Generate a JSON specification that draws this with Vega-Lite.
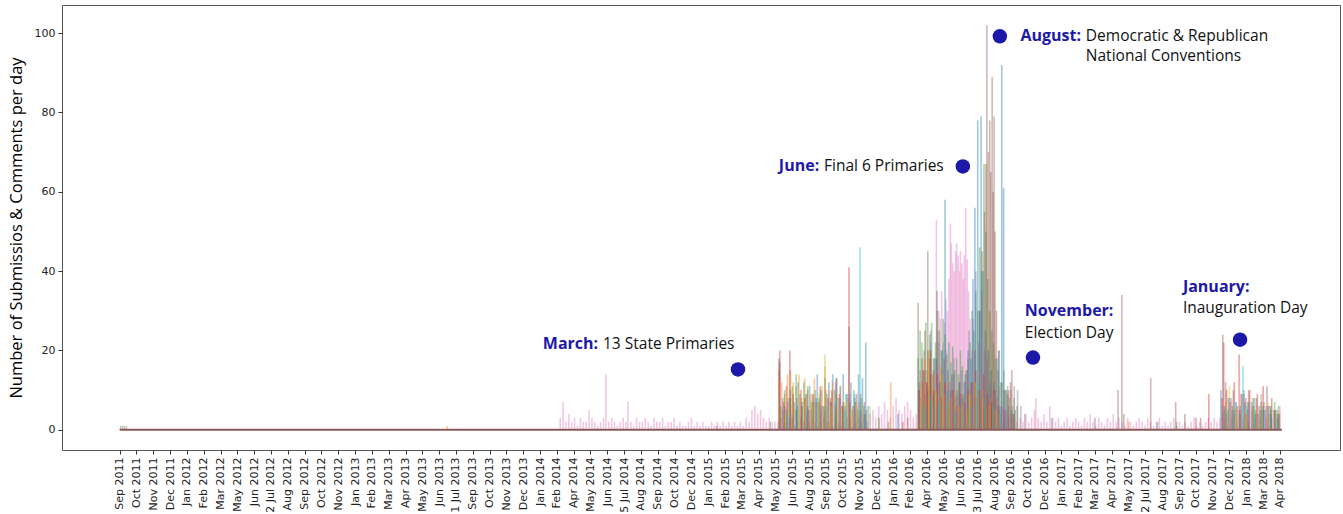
{
"$schema": "https://vega.github.io/schema/vega-lite/v6.json",
"width": 1278,
"height": 445,
"autosize": {"type": "none"},
"padding": {"left": 62, "top": 5, "right": 3, "bottom": 64},
"background": "white",
"config": {
  "view": {"stroke": "#555", "strokeWidth": 1},
  "axis": {"grid": false, "domain": false, "tickColor": "#333", "tickSize": 4, "labelFont": "DejaVu Sans", "labelFontSize": 11, "labelColor": "#222", "labelPadding": 3}
},
"datasets": {
  "counts": [
    {"day":2,"count":1,"series":"gray"},{"day":6,"count":1,"series":"gray"},{"day":10,"count":1,"series":"gray"},{"day":14,"count":1,"series":"gray"},
    {"day":682,"count":1,"series":"orange"},{"day":1243,"count":1,"series":"red"},{"day":1354,"count":2,"series":"green"},
    {"day":917,"count":3,"series":"pink"},{"day":923,"count":7,"series":"pink"},{"day":929,"count":2,"series":"pink"},{"day":935,"count":4,"series":"pink"},{"day":941,"count":2,"series":"pink"},{"day":947,"count":3,"series":"pink"},{"day":953,"count":1,"series":"pink"},{"day":959,"count":3,"series":"pink"},{"day":965,"count":2,"series":"pink"},{"day":971,"count":2,"series":"pink"},{"day":977,"count":5,"series":"pink"},{"day":983,"count":3,"series":"pink"},{"day":989,"count":2,"series":"pink"},{"day":995,"count":1,"series":"pink"},{"day":1001,"count":2,"series":"pink"},{"day":1007,"count":3,"series":"pink"},{"day":1012,"count":14,"series":"pink"},{"day":1018,"count":2,"series":"pink"},{"day":1024,"count":3,"series":"pink"},{"day":1030,"count":2,"series":"pink"},{"day":1036,"count":1,"series":"pink"},{"day":1042,"count":2,"series":"pink"},{"day":1048,"count":3,"series":"pink"},{"day":1054,"count":2,"series":"pink"},{"day":1058,"count":7,"series":"pink"},{"day":1064,"count":2,"series":"pink"},{"day":1070,"count":1,"series":"pink"},{"day":1076,"count":3,"series":"pink"},{"day":1082,"count":2,"series":"pink"},{"day":1088,"count":2,"series":"pink"},{"day":1094,"count":3,"series":"pink"},{"day":1100,"count":2,"series":"pink"},{"day":1106,"count":1,"series":"pink"},{"day":1112,"count":3,"series":"pink"},{"day":1118,"count":2,"series":"pink"},{"day":1124,"count":2,"series":"pink"},{"day":1130,"count":3,"series":"pink"},{"day":1136,"count":1,"series":"pink"},{"day":1142,"count":2,"series":"pink"},{"day":1148,"count":2,"series":"pink"},{"day":1154,"count":3,"series":"pink"},{"day":1160,"count":1,"series":"pink"},{"day":1166,"count":2,"series":"pink"},{"day":1172,"count":1,"series":"pink"},{"day":1178,"count":1,"series":"pink"},{"day":1184,"count":2,"series":"pink"},{"day":1190,"count":3,"series":"pink"},{"day":1196,"count":1,"series":"pink"},{"day":1202,"count":2,"series":"pink"},{"day":1208,"count":1,"series":"pink"},{"day":1214,"count":2,"series":"pink"},{"day":1220,"count":1,"series":"pink"},{"day":1226,"count":1,"series":"pink"},{"day":1232,"count":2,"series":"pink"},{"day":1238,"count":1,"series":"pink"},{"day":1244,"count":2,"series":"pink"},{"day":1250,"count":1,"series":"pink"},{"day":1256,"count":2,"series":"pink"},{"day":1262,"count":1,"series":"pink"},{"day":1268,"count":2,"series":"pink"},{"day":1274,"count":1,"series":"pink"},{"day":1280,"count":2,"series":"pink"},{"day":1286,"count":1,"series":"pink"},{"day":1292,"count":2,"series":"pink"},{"day":1298,"count":1,"series":"pink"},{"day":1304,"count":3,"series":"pink"},{"day":1310,"count":2,"series":"pink"},{"day":1316,"count":5,"series":"pink"},{"day":1322,"count":6,"series":"pink"},{"day":1328,"count":4,"series":"pink"},{"day":1334,"count":5,"series":"pink"},{"day":1340,"count":3,"series":"pink"},{"day":1346,"count":2,"series":"pink"},{"day":1352,"count":3,"series":"pink"},{"day":1358,"count":2,"series":"pink"},{"day":1364,"count":2,"series":"pink"},
    {"day":1370,"count":2,"series":"pink"},{"day":1376,"count":3,"series":"pink"},{"day":1382,"count":1,"series":"pink"},{"day":1388,"count":2,"series":"pink"},{"day":1394,"count":3,"series":"pink"},{"day":1400,"count":2,"series":"pink"},{"day":1406,"count":1,"series":"pink"},{"day":1412,"count":2,"series":"pink"},{"day":1418,"count":3,"series":"pink"},{"day":1424,"count":2,"series":"pink"},{"day":1430,"count":1,"series":"pink"},{"day":1436,"count":2,"series":"pink"},{"day":1442,"count":3,"series":"pink"},{"day":1448,"count":2,"series":"pink"},{"day":1454,"count":1,"series":"pink"},{"day":1460,"count":2,"series":"pink"},{"day":1466,"count":3,"series":"pink"},{"day":1472,"count":2,"series":"pink"},{"day":1478,"count":2,"series":"pink"},{"day":1484,"count":1,"series":"pink"},{"day":1490,"count":3,"series":"pink"},{"day":1496,"count":2,"series":"pink"},{"day":1502,"count":1,"series":"pink"},{"day":1508,"count":2,"series":"pink"},{"day":1514,"count":3,"series":"pink"},{"day":1520,"count":2,"series":"pink"},{"day":1526,"count":1,"series":"pink"},{"day":1532,"count":2,"series":"pink"},{"day":1538,"count":3,"series":"pink"},{"day":1544,"count":2,"series":"pink"},{"day":1550,"count":1,"series":"pink"},{"day":1556,"count":2,"series":"pink"},
    {"day":1562,"count":4,"series":"pink"},{"day":1568,"count":5,"series":"pink"},{"day":1574,"count":3,"series":"pink"},{"day":1580,"count":6,"series":"pink"},{"day":1586,"count":4,"series":"pink"},{"day":1592,"count":7,"series":"pink"},{"day":1598,"count":5,"series":"pink"},{"day":1604,"count":3,"series":"pink"},{"day":1610,"count":6,"series":"pink"},{"day":1616,"count":8,"series":"pink"},{"day":1622,"count":5,"series":"pink"},{"day":1628,"count":4,"series":"pink"},{"day":1634,"count":6,"series":"pink"},{"day":1640,"count":7,"series":"pink"},{"day":1646,"count":5,"series":"pink"},{"day":1652,"count":3,"series":"pink"},{"day":1658,"count":4,"series":"pink"},
    {"day":1664,"count":10,"series":"pink"},{"day":1668,"count":8,"series":"pink"},{"day":1672,"count":12,"series":"pink"},{"day":1676,"count":9,"series":"pink"},{"day":1680,"count":15,"series":"pink"},{"day":1684,"count":11,"series":"pink"},{"day":1688,"count":22,"series":"pink"},{"day":1692,"count":14,"series":"pink"},{"day":1696,"count":18,"series":"pink"},{"day":1700,"count":53,"series":"pink"},{"day":1702,"count":25,"series":"pink"},{"day":1705,"count":30,"series":"pink"},{"day":1708,"count":28,"series":"pink"},{"day":1711,"count":35,"series":"pink"},{"day":1714,"count":22,"series":"pink"},{"day":1717,"count":27,"series":"pink"},{"day":1720,"count":33,"series":"pink"},{"day":1723,"count":30,"series":"pink"},{"day":1726,"count":38,"series":"pink"},{"day":1729,"count":52,"series":"pink"},{"day":1731,"count":47,"series":"pink"},{"day":1734,"count":42,"series":"pink"},{"day":1737,"count":40,"series":"pink"},{"day":1740,"count":45,"series":"pink"},{"day":1742,"count":47,"series":"pink"},{"day":1745,"count":44,"series":"pink"},{"day":1748,"count":40,"series":"pink"},{"day":1750,"count":45,"series":"pink"},{"day":1753,"count":42,"series":"pink"},{"day":1756,"count":38,"series":"pink"},{"day":1758,"count":44,"series":"pink"},{"day":1761,"count":56,"series":"pink"},{"day":1764,"count":43,"series":"pink"},{"day":1767,"count":35,"series":"pink"},{"day":1770,"count":28,"series":"pink"},{"day":1774,"count":20,"series":"pink"},{"day":1778,"count":12,"series":"pink"},{"day":1782,"count":8,"series":"pink"},{"day":1786,"count":10,"series":"pink"},{"day":1790,"count":6,"series":"pink"},{"day":1794,"count":8,"series":"pink"},{"day":1798,"count":5,"series":"pink"},{"day":1802,"count":9,"series":"pink"},{"day":1806,"count":6,"series":"pink"},{"day":1810,"count":8,"series":"pink"},{"day":1814,"count":5,"series":"pink"},{"day":1818,"count":7,"series":"pink"},{"day":1822,"count":4,"series":"pink"},{"day":1826,"count":6,"series":"pink"},{"day":1830,"count":5,"series":"pink"},{"day":1834,"count":4,"series":"pink"},{"day":1838,"count":6,"series":"pink"},{"day":1842,"count":3,"series":"pink"},{"day":1846,"count":5,"series":"pink"},{"day":1850,"count":3,"series":"pink"},{"day":1856,"count":4,"series":"pink"},{"day":1862,"count":3,"series":"pink"},{"day":1868,"count":2,"series":"pink"},
    {"day":1874,"count":3,"series":"pink"},{"day":1880,"count":2,"series":"pink"},{"day":1886,"count":4,"series":"pink"},{"day":1892,"count":2,"series":"pink"},{"day":1898,"count":3,"series":"pink"},{"day":1904,"count":5,"series":"pink"},{"day":1907,"count":8,"series":"pink"},{"day":1912,"count":3,"series":"pink"},{"day":1918,"count":2,"series":"pink"},{"day":1924,"count":4,"series":"pink"},{"day":1930,"count":2,"series":"pink"},{"day":1936,"count":6,"series":"pink"},{"day":1942,"count":3,"series":"pink"},{"day":1948,"count":2,"series":"pink"},{"day":1954,"count":3,"series":"pink"},{"day":1960,"count":1,"series":"pink"},{"day":1966,"count":2,"series":"pink"},{"day":1972,"count":3,"series":"pink"},{"day":1978,"count":1,"series":"pink"},{"day":1984,"count":2,"series":"pink"},{"day":1990,"count":3,"series":"pink"},{"day":1996,"count":2,"series":"pink"},{"day":2002,"count":1,"series":"pink"},{"day":2008,"count":3,"series":"pink"},{"day":2014,"count":2,"series":"pink"},{"day":2020,"count":4,"series":"pink"},{"day":2026,"count":2,"series":"pink"},{"day":2032,"count":1,"series":"pink"},{"day":2038,"count":3,"series":"pink"},{"day":2044,"count":2,"series":"pink"},{"day":2050,"count":1,"series":"pink"},{"day":2056,"count":3,"series":"pink"},{"day":2062,"count":2,"series":"pink"},{"day":2068,"count":4,"series":"pink"},{"day":2074,"count":2,"series":"pink"},{"day":2080,"count":3,"series":"pink"},{"day":2086,"count":2,"series":"pink"},{"day":2092,"count":1,"series":"pink"},{"day":2098,"count":3,"series":"pink"},{"day":2104,"count":2,"series":"pink"},{"day":2110,"count":1,"series":"pink"},{"day":2116,"count":2,"series":"pink"},{"day":2122,"count":3,"series":"pink"},{"day":2128,"count":2,"series":"pink"},{"day":2134,"count":1,"series":"pink"},{"day":2140,"count":3,"series":"pink"},{"day":2146,"count":2,"series":"pink"},{"day":2152,"count":1,"series":"pink"},{"day":2158,"count":2,"series":"pink"},{"day":2164,"count":3,"series":"pink"},{"day":2170,"count":1,"series":"pink"},{"day":2176,"count":2,"series":"pink"},{"day":2182,"count":1,"series":"pink"},{"day":2188,"count":2,"series":"pink"},{"day":2194,"count":3,"series":"pink"},{"day":2200,"count":1,"series":"pink"},{"day":2206,"count":2,"series":"pink"},{"day":2212,"count":1,"series":"pink"},{"day":2218,"count":2,"series":"pink"},{"day":2224,"count":1,"series":"pink"},{"day":2230,"count":2,"series":"pink"},{"day":2236,"count":3,"series":"pink"},{"day":2242,"count":1,"series":"pink"},{"day":2248,"count":2,"series":"pink"},{"day":2254,"count":1,"series":"pink"},{"day":2260,"count":2,"series":"pink"},{"day":2266,"count":3,"series":"pink"},{"day":2272,"count":2,"series":"pink"},{"day":2278,"count":3,"series":"pink"},{"day":2284,"count":2,"series":"pink"},{"day":2290,"count":3,"series":"pink"},
    {"day":2296,"count":4,"series":"pink"},{"day":2302,"count":3,"series":"pink"},{"day":2308,"count":5,"series":"pink"},{"day":2314,"count":3,"series":"pink"},{"day":2320,"count":4,"series":"pink"},{"day":2326,"count":2,"series":"pink"},{"day":2332,"count":5,"series":"pink"},{"day":2338,"count":3,"series":"pink"},{"day":2344,"count":4,"series":"pink"},{"day":2350,"count":2,"series":"pink"},{"day":2356,"count":5,"series":"pink"},{"day":2362,"count":3,"series":"pink"},{"day":2368,"count":4,"series":"pink"},{"day":2374,"count":3,"series":"pink"},{"day":2380,"count":5,"series":"pink"},{"day":2386,"count":3,"series":"pink"},{"day":2392,"count":4,"series":"pink"},{"day":2398,"count":3,"series":"pink"},{"day":2404,"count":5,"series":"pink"},{"day":2410,"count":4,"series":"pink"},{"day":2415,"count":6,"series":"pink"},
    {"day":1374,"count":17,"series":"blue"},{"day":1380,"count":8,"series":"blue"},{"day":1388,"count":5,"series":"blue"},{"day":1396,"count":10,"series":"blue"},{"day":1404,"count":7,"series":"blue"},{"day":1412,"count":12,"series":"blue"},{"day":1420,"count":6,"series":"blue"},{"day":1428,"count":9,"series":"blue"},{"day":1436,"count":11,"series":"blue"},{"day":1444,"count":7,"series":"blue"},{"day":1452,"count":14,"series":"blue"},{"day":1460,"count":10,"series":"blue"},{"day":1468,"count":13,"series":"blue"},{"day":1476,"count":12,"series":"blue"},{"day":1484,"count":14,"series":"blue"},{"day":1492,"count":13,"series":"blue"},{"day":1500,"count":11,"series":"blue"},{"day":1506,"count":14,"series":"blue"},{"day":1514,"count":9,"series":"blue"},{"day":1522,"count":12,"series":"blue"},{"day":1530,"count":8,"series":"blue"},{"day":1538,"count":14,"series":"blue"},{"day":1546,"count":13,"series":"blue"},{"day":1553,"count":22,"series":"blue"},{"day":1558,"count":6,"series":"blue"},{"day":1580,"count":3,"series":"blue"},{"day":1620,"count":4,"series":"blue"},
    {"day":1372,"count":15,"series":"orange"},{"day":1378,"count":12,"series":"orange"},{"day":1384,"count":9,"series":"orange"},{"day":1390,"count":14,"series":"orange"},{"day":1396,"count":15,"series":"orange"},{"day":1402,"count":12,"series":"orange"},{"day":1408,"count":11,"series":"orange"},{"day":1414,"count":14,"series":"orange"},{"day":1420,"count":8,"series":"orange"},{"day":1426,"count":13,"series":"orange"},{"day":1432,"count":10,"series":"orange"},{"day":1438,"count":9,"series":"orange"},{"day":1446,"count":13,"series":"orange"},{"day":1454,"count":7,"series":"orange"},{"day":1462,"count":11,"series":"orange"},{"day":1468,"count":16,"series":"orange"},{"day":1476,"count":10,"series":"orange"},{"day":1484,"count":12,"series":"orange"},{"day":1492,"count":9,"series":"orange"},{"day":1500,"count":11,"series":"orange"},{"day":1508,"count":6,"series":"orange"},{"day":1516,"count":8,"series":"orange"},{"day":1524,"count":5,"series":"orange"},{"day":1532,"count":7,"series":"orange"},{"day":1540,"count":4,"series":"orange"},{"day":1548,"count":6,"series":"orange"},{"day":1605,"count":12,"series":"orange"},
    {"day":1376,"count":6,"series":"green"},{"day":1384,"count":10,"series":"green"},{"day":1392,"count":8,"series":"green"},{"day":1400,"count":11,"series":"green"},{"day":1408,"count":14,"series":"green"},{"day":1416,"count":9,"series":"green"},{"day":1424,"count":12,"series":"green"},{"day":1432,"count":11,"series":"green"},{"day":1440,"count":7,"series":"green"},{"day":1448,"count":10,"series":"green"},{"day":1456,"count":8,"series":"green"},{"day":1464,"count":6,"series":"green"},{"day":1472,"count":9,"series":"green"},{"day":1480,"count":7,"series":"green"},{"day":1488,"count":10,"series":"green"},{"day":1496,"count":8,"series":"green"},{"day":1504,"count":6,"series":"green"},{"day":1512,"count":9,"series":"green"},{"day":1520,"count":7,"series":"green"},{"day":1528,"count":10,"series":"green"},{"day":1536,"count":5,"series":"green"},{"day":1544,"count":8,"series":"green"},{"day":1552,"count":4,"series":"green"},{"day":1600,"count":2,"series":"green"},
    {"day":1374,"count":20,"series":"red"},{"day":1382,"count":7,"series":"red"},{"day":1388,"count":11,"series":"red"},{"day":1395,"count":20,"series":"red"},{"day":1402,"count":9,"series":"red"},{"day":1410,"count":6,"series":"red"},{"day":1418,"count":10,"series":"red"},{"day":1426,"count":8,"series":"red"},{"day":1434,"count":5,"series":"red"},{"day":1442,"count":9,"series":"red"},{"day":1450,"count":7,"series":"red"},{"day":1458,"count":11,"series":"red"},{"day":1466,"count":6,"series":"red"},{"day":1474,"count":8,"series":"red"},{"day":1482,"count":10,"series":"red"},{"day":1490,"count":6,"series":"red"},{"day":1498,"count":9,"series":"red"},{"day":1506,"count":7,"series":"red"},{"day":1518,"count":41,"series":"red"},{"day":1526,"count":6,"series":"red"},{"day":1534,"count":9,"series":"red"},{"day":1542,"count":5,"series":"red"},{"day":1550,"count":7,"series":"red"},{"day":1630,"count":2,"series":"red"},
    {"day":1380,"count":5,"series":"purple"},{"day":1390,"count":7,"series":"purple"},{"day":1400,"count":4,"series":"purple"},{"day":1410,"count":8,"series":"purple"},{"day":1420,"count":6,"series":"purple"},{"day":1430,"count":9,"series":"purple"},{"day":1440,"count":5,"series":"purple"},{"day":1450,"count":8,"series":"purple"},{"day":1460,"count":6,"series":"purple"},{"day":1470,"count":10,"series":"purple"},{"day":1480,"count":7,"series":"purple"},{"day":1490,"count":12,"series":"purple"},{"day":1500,"count":8,"series":"purple"},{"day":1510,"count":6,"series":"purple"},{"day":1520,"count":9,"series":"purple"},{"day":1530,"count":5,"series":"purple"},{"day":1540,"count":7,"series":"purple"},{"day":1550,"count":4,"series":"purple"},
    {"day":1372,"count":18,"series":"brown"},{"day":1384,"count":6,"series":"brown"},{"day":1396,"count":8,"series":"brown"},{"day":1408,"count":5,"series":"brown"},{"day":1420,"count":7,"series":"brown"},{"day":1432,"count":6,"series":"brown"},{"day":1444,"count":9,"series":"brown"},{"day":1456,"count":7,"series":"brown"},{"day":1468,"count":5,"series":"brown"},{"day":1480,"count":8,"series":"brown"},{"day":1492,"count":13,"series":"brown"},{"day":1504,"count":6,"series":"brown"},{"day":1518,"count":26,"series":"brown"},{"day":1530,"count":7,"series":"brown"},{"day":1542,"count":9,"series":"brown"},{"day":1554,"count":5,"series":"brown"},{"day":1640,"count":3,"series":"brown"},
    {"day":1386,"count":4,"series":"olive"},{"day":1400,"count":6,"series":"olive"},{"day":1414,"count":5,"series":"olive"},{"day":1428,"count":8,"series":"olive"},{"day":1442,"count":6,"series":"olive"},{"day":1456,"count":9,"series":"olive"},{"day":1468,"count":19,"series":"olive"},{"day":1480,"count":6,"series":"olive"},{"day":1494,"count":5,"series":"olive"},{"day":1508,"count":7,"series":"olive"},{"day":1522,"count":4,"series":"olive"},{"day":1536,"count":6,"series":"olive"},{"day":1562,"count":6,"series":"olive"},{"day":1580,"count":3,"series":"olive"},
    {"day":1390,"count":4,"series":"cyan"},{"day":1410,"count":6,"series":"cyan"},{"day":1430,"count":5,"series":"cyan"},{"day":1450,"count":8,"series":"cyan"},{"day":1470,"count":6,"series":"cyan"},{"day":1490,"count":7,"series":"cyan"},{"day":1510,"count":5,"series":"cyan"},{"day":1530,"count":9,"series":"cyan"},{"day":1541,"count":46,"series":"cyan"},{"day":1550,"count":6,"series":"cyan"},
    {"day":1400,"count":3,"series":"gray"},{"day":1430,"count":4,"series":"gray"},{"day":1460,"count":5,"series":"gray"},{"day":1490,"count":4,"series":"gray"},{"day":1520,"count":3,"series":"gray"},{"day":1550,"count":4,"series":"gray"},
    {"day":1662,"count":18,"series":"green"},{"day":1666,"count":25,"series":"green"},{"day":1670,"count":22,"series":"green"},{"day":1674,"count":15,"series":"green"},{"day":1678,"count":27,"series":"green"},{"day":1682,"count":20,"series":"green"},{"day":1686,"count":24,"series":"green"},{"day":1690,"count":27,"series":"green"},{"day":1694,"count":18,"series":"green"},{"day":1698,"count":22,"series":"green"},{"day":1702,"count":30,"series":"green"},{"day":1706,"count":25,"series":"green"},{"day":1710,"count":20,"series":"green"},{"day":1714,"count":28,"series":"green"},{"day":1718,"count":24,"series":"green"},{"day":1722,"count":19,"series":"green"},{"day":1726,"count":22,"series":"green"},{"day":1730,"count":17,"series":"green"},{"day":1734,"count":21,"series":"green"},{"day":1738,"count":15,"series":"green"},{"day":1742,"count":18,"series":"green"},{"day":1746,"count":14,"series":"green"},{"day":1750,"count":20,"series":"green"},{"day":1754,"count":16,"series":"green"},{"day":1758,"count":12,"series":"green"},{"day":1762,"count":15,"series":"green"},{"day":1766,"count":18,"series":"green"},{"day":1770,"count":22,"series":"green"},{"day":1774,"count":30,"series":"green"},{"day":1778,"count":25,"series":"green"},{"day":1782,"count":35,"series":"green"},{"day":1786,"count":30,"series":"green"},{"day":1790,"count":46,"series":"green"},{"day":1794,"count":40,"series":"green"},{"day":1799,"count":67,"series":"green"},{"day":1803,"count":50,"series":"green"},{"day":1807,"count":38,"series":"green"},{"day":1811,"count":30,"series":"green"},{"day":1815,"count":25,"series":"green"},{"day":1819,"count":22,"series":"green"},{"day":1823,"count":18,"series":"green"},{"day":1828,"count":15,"series":"green"},{"day":1834,"count":12,"series":"green"},{"day":1840,"count":15,"series":"green"},{"day":1846,"count":10,"series":"green"},{"day":1852,"count":8,"series":"green"},{"day":1858,"count":6,"series":"green"},{"day":1864,"count":5,"series":"green"},
    {"day":1664,"count":12,"series":"blue"},{"day":1670,"count":8,"series":"blue"},{"day":1676,"count":15,"series":"blue"},{"day":1682,"count":10,"series":"blue"},{"day":1688,"count":14,"series":"blue"},{"day":1694,"count":9,"series":"blue"},{"day":1700,"count":18,"series":"blue"},{"day":1706,"count":12,"series":"blue"},{"day":1712,"count":20,"series":"blue"},{"day":1718,"count":58,"series":"blue"},{"day":1724,"count":15,"series":"blue"},{"day":1730,"count":10,"series":"blue"},{"day":1736,"count":14,"series":"blue"},{"day":1742,"count":9,"series":"blue"},{"day":1748,"count":12,"series":"blue"},{"day":1754,"count":8,"series":"blue"},{"day":1760,"count":14,"series":"blue"},{"day":1766,"count":20,"series":"blue"},{"day":1772,"count":18,"series":"blue"},{"day":1776,"count":38,"series":"blue"},{"day":1780,"count":56,"series":"blue"},{"day":1786,"count":78,"series":"blue"},{"day":1790,"count":30,"series":"blue"},{"day":1793,"count":79,"series":"blue"},{"day":1797,"count":40,"series":"blue"},{"day":1802,"count":25,"series":"blue"},{"day":1808,"count":20,"series":"blue"},{"day":1814,"count":15,"series":"blue"},{"day":1820,"count":12,"series":"blue"},{"day":1826,"count":18,"series":"blue"},{"day":1830,"count":20,"series":"blue"},{"day":1836,"count":92,"series":"blue"},{"day":1840,"count":61,"series":"blue"},{"day":1844,"count":10,"series":"blue"},{"day":1850,"count":6,"series":"blue"},{"day":1856,"count":5,"series":"blue"},{"day":1862,"count":4,"series":"blue"},
    {"day":1666,"count":15,"series":"purple"},{"day":1674,"count":20,"series":"purple"},{"day":1680,"count":12,"series":"purple"},{"day":1688,"count":25,"series":"purple"},{"day":1696,"count":18,"series":"purple"},{"day":1704,"count":22,"series":"purple"},{"day":1712,"count":15,"series":"purple"},{"day":1720,"count":20,"series":"purple"},{"day":1728,"count":12,"series":"purple"},{"day":1736,"count":18,"series":"purple"},{"day":1744,"count":10,"series":"purple"},{"day":1752,"count":15,"series":"purple"},{"day":1760,"count":12,"series":"purple"},{"day":1768,"count":25,"series":"purple"},{"day":1776,"count":28,"series":"purple"},{"day":1782,"count":40,"series":"purple"},{"day":1788,"count":22,"series":"purple"},{"day":1794,"count":35,"series":"purple"},{"day":1800,"count":20,"series":"purple"},{"day":1806,"count":18,"series":"purple"},{"day":1812,"count":12,"series":"purple"},{"day":1818,"count":10,"series":"purple"},{"day":1826,"count":8,"series":"purple"},{"day":1834,"count":6,"series":"purple"},{"day":1844,"count":5,"series":"purple"},{"day":1856,"count":4,"series":"purple"},
    {"day":1662,"count":32,"series":"brown"},{"day":1670,"count":18,"series":"brown"},{"day":1676,"count":25,"series":"brown"},{"day":1682,"count":45,"series":"brown"},{"day":1688,"count":20,"series":"brown"},{"day":1694,"count":15,"series":"brown"},{"day":1701,"count":35,"series":"brown"},{"day":1708,"count":12,"series":"brown"},{"day":1716,"count":18,"series":"brown"},{"day":1724,"count":10,"series":"brown"},{"day":1732,"count":14,"series":"brown"},{"day":1740,"count":8,"series":"brown"},{"day":1748,"count":12,"series":"brown"},{"day":1756,"count":9,"series":"brown"},{"day":1764,"count":15,"series":"brown"},{"day":1772,"count":12,"series":"brown"},{"day":1780,"count":20,"series":"brown"},{"day":1790,"count":30,"series":"brown"},{"day":1795,"count":45,"series":"brown"},{"day":1800,"count":55,"series":"brown"},{"day":1803,"count":67,"series":"brown"},{"day":1805,"count":102,"series":"brown"},{"day":1808,"count":70,"series":"brown"},{"day":1811,"count":78,"series":"brown"},{"day":1813,"count":65,"series":"brown"},{"day":1816,"count":89,"series":"brown"},{"day":1818,"count":60,"series":"brown"},{"day":1820,"count":79,"series":"brown"},{"day":1822,"count":50,"series":"brown"},{"day":1825,"count":30,"series":"brown"},{"day":1830,"count":20,"series":"brown"},{"day":1836,"count":12,"series":"brown"},{"day":1842,"count":10,"series":"brown"},{"day":1848,"count":9,"series":"brown"},{"day":1854,"count":12,"series":"brown"},{"day":1857,"count":15,"series":"brown"},{"day":1862,"count":8,"series":"brown"},{"day":1868,"count":6,"series":"brown"},
    {"day":1664,"count":10,"series":"red"},{"day":1672,"count":15,"series":"red"},{"day":1680,"count":12,"series":"red"},{"day":1686,"count":18,"series":"red"},{"day":1694,"count":10,"series":"red"},{"day":1702,"count":14,"series":"red"},{"day":1710,"count":8,"series":"red"},{"day":1718,"count":12,"series":"red"},{"day":1726,"count":7,"series":"red"},{"day":1734,"count":10,"series":"red"},{"day":1742,"count":6,"series":"red"},{"day":1750,"count":9,"series":"red"},{"day":1758,"count":7,"series":"red"},{"day":1766,"count":10,"series":"red"},{"day":1774,"count":12,"series":"red"},{"day":1782,"count":15,"series":"red"},{"day":1790,"count":10,"series":"red"},{"day":1798,"count":14,"series":"red"},{"day":1806,"count":9,"series":"red"},{"day":1814,"count":7,"series":"red"},{"day":1822,"count":10,"series":"red"},{"day":1830,"count":6,"series":"red"},{"day":1840,"count":5,"series":"red"},{"day":1850,"count":10,"series":"red"},{"day":1860,"count":4,"series":"red"},
    {"day":1668,"count":12,"series":"orange"},{"day":1676,"count":18,"series":"orange"},{"day":1684,"count":20,"series":"orange"},{"day":1692,"count":14,"series":"orange"},{"day":1700,"count":10,"series":"orange"},{"day":1708,"count":16,"series":"orange"},{"day":1716,"count":9,"series":"orange"},{"day":1724,"count":12,"series":"orange"},{"day":1732,"count":8,"series":"orange"},{"day":1740,"count":10,"series":"orange"},{"day":1748,"count":6,"series":"orange"},{"day":1756,"count":8,"series":"orange"},{"day":1764,"count":5,"series":"orange"},{"day":1772,"count":9,"series":"orange"},{"day":1780,"count":12,"series":"orange"},{"day":1788,"count":8,"series":"orange"},{"day":1796,"count":10,"series":"orange"},{"day":1804,"count":6,"series":"orange"},{"day":1812,"count":8,"series":"orange"},{"day":1820,"count":5,"series":"orange"},{"day":1830,"count":4,"series":"orange"},
    {"day":1670,"count":8,"series":"olive"},{"day":1684,"count":12,"series":"olive"},{"day":1698,"count":9,"series":"olive"},{"day":1712,"count":14,"series":"olive"},{"day":1726,"count":7,"series":"olive"},{"day":1740,"count":10,"series":"olive"},{"day":1754,"count":6,"series":"olive"},{"day":1768,"count":9,"series":"olive"},{"day":1782,"count":12,"series":"olive"},{"day":1796,"count":8,"series":"olive"},{"day":1810,"count":6,"series":"olive"},{"day":1824,"count":5,"series":"olive"},
    {"day":1674,"count":6,"series":"cyan"},{"day":1690,"count":9,"series":"cyan"},{"day":1706,"count":7,"series":"cyan"},{"day":1722,"count":10,"series":"cyan"},{"day":1738,"count":5,"series":"cyan"},{"day":1754,"count":8,"series":"cyan"},{"day":1770,"count":6,"series":"cyan"},{"day":1786,"count":12,"series":"cyan"},{"day":1802,"count":9,"series":"cyan"},{"day":1818,"count":6,"series":"cyan"},{"day":1834,"count":5,"series":"cyan"},
    {"day":1680,"count":5,"series":"gray"},{"day":1700,"count":6,"series":"gray"},{"day":1720,"count":4,"series":"gray"},{"day":1740,"count":5,"series":"gray"},{"day":1760,"count":6,"series":"gray"},{"day":1780,"count":8,"series":"gray"},{"day":1800,"count":10,"series":"gray"},{"day":1810,"count":11,"series":"gray"},{"day":1820,"count":10,"series":"gray"},{"day":1830,"count":11,"series":"gray"},{"day":1840,"count":10,"series":"gray"},{"day":1848,"count":11,"series":"gray"},{"day":1855,"count":10,"series":"gray"},{"day":1862,"count":11,"series":"gray"},{"day":1869,"count":10,"series":"gray"},{"day":1876,"count":6,"series":"gray"},{"day":1884,"count":4,"series":"gray"},
    {"day":2030,"count":3,"series":"brown"},{"day":2078,"count":10,"series":"brown"},{"day":2086,"count":34,"series":"brown"},{"day":2090,"count":4,"series":"brown"},{"day":2146,"count":13,"series":"brown"},{"day":2198,"count":7,"series":"brown"},{"day":2217,"count":4,"series":"brown"},{"day":2250,"count":3,"series":"brown"},{"day":2100,"count":2,"series":"orange"},{"day":2160,"count":2,"series":"blue"},{"day":2240,"count":3,"series":"red"},{"day":2200,"count":2,"series":"green"},{"day":1940,"count":3,"series":"gray"},
    {"day":2296,"count":24,"series":"brown"},{"day":2302,"count":12,"series":"brown"},{"day":2310,"count":8,"series":"brown"},{"day":2318,"count":10,"series":"brown"},{"day":2326,"count":6,"series":"brown"},{"day":2334,"count":9,"series":"brown"},{"day":2342,"count":7,"series":"brown"},{"day":2350,"count":10,"series":"brown"},{"day":2358,"count":6,"series":"brown"},{"day":2366,"count":8,"series":"brown"},{"day":2374,"count":5,"series":"brown"},{"day":2382,"count":7,"series":"brown"},{"day":2388,"count":11,"series":"brown"},{"day":2396,"count":6,"series":"brown"},{"day":2404,"count":5,"series":"brown"},{"day":2412,"count":4,"series":"brown"},
    {"day":2267,"count":9,"series":"red"},{"day":2294,"count":8,"series":"red"},{"day":2298,"count":22,"series":"red"},{"day":2304,"count":10,"series":"red"},{"day":2312,"count":7,"series":"red"},{"day":2320,"count":12,"series":"red"},{"day":2330,"count":19,"series":"red"},{"day":2336,"count":9,"series":"red"},{"day":2344,"count":8,"series":"red"},{"day":2352,"count":10,"series":"red"},{"day":2360,"count":6,"series":"red"},{"day":2368,"count":9,"series":"red"},{"day":2376,"count":7,"series":"red"},{"day":2380,"count":11,"series":"red"},{"day":2390,"count":6,"series":"red"},{"day":2398,"count":8,"series":"red"},{"day":2406,"count":5,"series":"red"},{"day":2414,"count":4,"series":"red"},
    {"day":2292,"count":10,"series":"blue"},{"day":2300,"count":6,"series":"blue"},{"day":2308,"count":8,"series":"blue"},{"day":2316,"count":5,"series":"blue"},{"day":2324,"count":7,"series":"blue"},{"day":2332,"count":6,"series":"blue"},{"day":2340,"count":9,"series":"blue"},{"day":2348,"count":5,"series":"blue"},{"day":2356,"count":7,"series":"blue"},{"day":2364,"count":4,"series":"blue"},{"day":2372,"count":6,"series":"blue"},{"day":2384,"count":5,"series":"blue"},{"day":2396,"count":4,"series":"blue"},{"day":2410,"count":3,"series":"blue"},
    {"day":2306,"count":5,"series":"cyan"},{"day":2322,"count":7,"series":"cyan"},{"day":2338,"count":16,"series":"cyan"},{"day":2346,"count":6,"series":"cyan"},{"day":2362,"count":8,"series":"cyan"},{"day":2378,"count":5,"series":"cyan"},{"day":2394,"count":6,"series":"cyan"},{"day":2408,"count":4,"series":"cyan"},
    {"day":2310,"count":11,"series":"olive"},{"day":2326,"count":6,"series":"olive"},{"day":2342,"count":5,"series":"olive"},{"day":2358,"count":8,"series":"olive"},{"day":2374,"count":4,"series":"olive"},{"day":2390,"count":7,"series":"olive"},{"day":2406,"count":5,"series":"olive"},
    {"day":2300,"count":5,"series":"green"},{"day":2316,"count":6,"series":"green"},{"day":2332,"count":4,"series":"green"},{"day":2348,"count":7,"series":"green"},{"day":2364,"count":5,"series":"green"},{"day":2380,"count":6,"series":"green"},{"day":2396,"count":5,"series":"green"},{"day":2404,"count":7,"series":"green"},{"day":2412,"count":6,"series":"green"},
    {"day":2296,"count":6,"series":"purple"},{"day":2314,"count":8,"series":"purple"},{"day":2330,"count":5,"series":"purple"},{"day":2350,"count":7,"series":"purple"},{"day":2370,"count":4,"series":"purple"},{"day":2386,"count":6,"series":"purple"},{"day":2402,"count":5,"series":"purple"},
    {"day":2304,"count":4,"series":"gray"},{"day":2320,"count":5,"series":"gray"},{"day":2340,"count":10,"series":"gray"},{"day":2360,"count":8,"series":"gray"},{"day":2376,"count":9,"series":"gray"},{"day":2392,"count":6,"series":"gray"},{"day":2410,"count":5,"series":"gray"},
    {"day":2302,"count":7,"series":"orange"},{"day":2324,"count":5,"series":"orange"},{"day":2346,"count":4,"series":"orange"},{"day":2368,"count":6,"series":"orange"},{"day":2390,"count":3,"series":"orange"}
  ],
  "baseline": [{"day": 0, "end": 2419, "count": 0}],
  "events": [
    {"day": 1287, "count": 15.2, "event": "March"},
    {"day": 1755, "count": 66.4, "event": "June"},
    {"day": 1832, "count": 99.2, "event": "August"},
    {"day": 1901, "count": 18.2, "event": "November"},
    {"day": 2332, "count": 22.7, "event": "January"}
  ],
  "notes": [
    {"day": 996, "count": 21.7, "text": "March:", "role": "headR"},
    {"day": 1006, "count": 21.7, "text": "13 State Primaries", "role": "body"},
    {"day": 1456, "count": 66.4, "text": "June:", "role": "headR"},
    {"day": 1466, "count": 66.4, "text": "Final 6 Primaries", "role": "body"},
    {"day": 2001, "count": 99.2, "text": "August:", "role": "headR"},
    {"day": 2011, "count": 99.2, "text": "Democratic & Republican", "role": "body"},
    {"day": 2011, "count": 94.2, "text": "National Conventions", "role": "body"},
    {"day": 1884, "count": 30.0, "text": "November:", "role": "headL"},
    {"day": 1884, "count": 24.5, "text": "Election Day", "role": "body"},
    {"day": 2213, "count": 36.1, "text": "January:", "role": "headL"},
    {"day": 2213, "count": 30.8, "text": "Inauguration Day", "role": "body"}
  ]
},
"layer": [
  {
    "data": {"name": "counts"},
    "mark": {"type": "bar", "size": 1.6, "opacity": 0.42},
    "encoding": {
      "x": {"field": "day", "type": "quantitative",
        "scale": {"domain": [-120, 2540], "nice": false, "zero": false, "padding": 0},
        "axis": {"title": null, "labelAngle": -90, "tickCount": 200,
          "values": [0,35,70,105,140,175,210,245,280,315,350,385,420,455,490,525,560,595,630,665,700,735,770,805,840,875,910,945,980,1015,1050,1085,1120,1155,1190,1225,1260,1295,1330,1365,1400,1435,1470,1505,1540,1575,1610,1645,1680,1715,1750,1785,1820,1855,1890,1925,1960,1995,2030,2065,2100,2135,2170,2205,2240,2275,2310,2345,2380,2415],
          "labelExpr": "['Sep 2011','Oct 2011','Nov 2011','Dec 2011','Jan 2012','Feb 2012','Mar 2012','May 2012','Jun 2012','2 Jul 2012','Aug 2012','Sep 2012','Oct 2012','Nov 2012','Jan 2013','Feb 2013','Mar 2013','Apr 2013','May 2013','Jun 2013','1 Jul 2013','Sep 2013','Oct 2013','Nov 2013','Dec 2013','Jan 2014','Feb 2014','Apr 2014','May 2014','Jun 2014','5 Jul 2014','Aug 2014','Sep 2014','Oct 2014','Dec 2014','Jan 2015','Feb 2015','Mar 2015','Apr 2015','May 2015','Jun 2015','Aug 2015','Sep 2015','Oct 2015','Nov 2015','Dec 2015','Jan 2016','Feb 2016','Apr 2016','May 2016','Jun 2016','3 Jul 2016','Aug 2016','Sep 2016','Oct 2016','Dec 2016','Jan 2017','Feb 2017','Mar 2017','Apr 2017','May 2017','2 Jul 2017','Aug 2017','Sep 2017','Oct 2017','Nov 2017','Dec 2017','Jan 2018','Mar 2018','Apr 2018'][round(datum.value/35)]",
          "labelOverlap": false, "labelBound": false, "labelFlush": false}},
      "y": {"field": "count", "type": "quantitative", "stack": null,
        "scale": {"domain": [-5.1, 107.1], "nice": false, "zero": false},
        "axis": {"title": "Number of Submissios & Comments per day", "values": [0,20,40,60,80,100],
          "titleFont": "Open Sans", "titleFontSize": 16.5, "titleFontWeight": "normal", "titleColor": "#000", "titlePadding": 10, "labelPadding": 3}},
      "color": {"field": "series", "type": "nominal", "legend": null,
        "scale": {"domain": ["blue","orange","green","red","purple","brown","pink","gray","olive","cyan"],
                  "range": ["#1f77b4","#ff7f0e","#2ca02c","#d62728","#9467bd","#8c564b","#e377c2","#7f7f7f","#bcbd22","#17becf"]}}
    }
  },
  {
    "data": {"name": "baseline"},
    "mark": {"type": "rule", "color": "#8a5a5a", "strokeWidth": 2},
    "encoding": {
      "x": {"field": "day", "type": "quantitative"},
      "x2": {"field": "end"},
      "y": {"field": "count", "type": "quantitative"}
    }
  },
  {
    "data": {"name": "events"},
    "mark": {"type": "circle", "size": 210, "color": "#1c18a8", "opacity": 1},
    "encoding": {
      "x": {"field": "day", "type": "quantitative"},
      "y": {"field": "count", "type": "quantitative"}
    }
  },
  {
    "data": {"name": "notes"},
    "transform": [{"filter": "datum.role === 'headR'"}],
    "mark": {"type": "text", "align": "right", "baseline": "middle", "font": "Open Sans", "fontSize": 16, "fontWeight": "bold", "color": "#1c18a8"},
    "encoding": {
      "x": {"field": "day", "type": "quantitative"},
      "y": {"field": "count", "type": "quantitative"},
      "text": {"field": "text"}
    }
  },
  {
    "data": {"name": "notes"},
    "transform": [{"filter": "datum.role === 'headL'"}],
    "mark": {"type": "text", "align": "left", "baseline": "middle", "font": "Open Sans", "fontSize": 16, "fontWeight": "bold", "color": "#1c18a8"},
    "encoding": {
      "x": {"field": "day", "type": "quantitative"},
      "y": {"field": "count", "type": "quantitative"},
      "text": {"field": "text"}
    }
  },
  {
    "data": {"name": "notes"},
    "transform": [{"filter": "datum.role === 'body'"}],
    "mark": {"type": "text", "align": "left", "baseline": "middle", "font": "Open Sans", "fontSize": 15.5, "color": "#111"},
    "encoding": {
      "x": {"field": "day", "type": "quantitative"},
      "y": {"field": "count", "type": "quantitative"},
      "text": {"field": "text"}
    }
  }
]
}
